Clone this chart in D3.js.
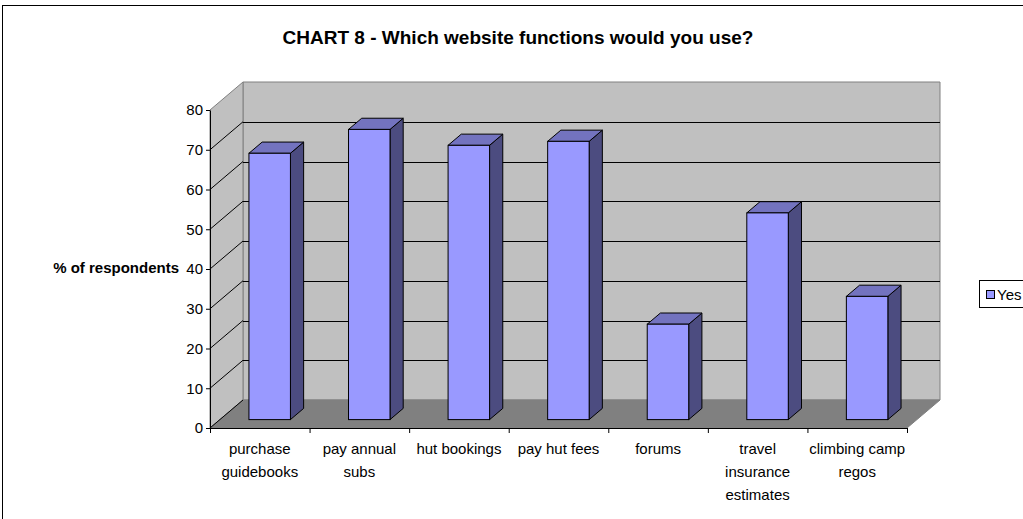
<!DOCTYPE html>
<html><head><meta charset="utf-8">
<script src="https://cdn.jsdelivr.net/npm/d3@7"></script>
<style>
html,body{margin:0;padding:0;background:#fff;}
svg{display:block;font-family:"Liberation Sans",Arial,sans-serif;}
</style></head>
<body>
<svg id="chart" width="1023" height="519"></svg>
<script>
// ---- data ----
const categories = ["purchase guidebooks","pay annual subs","hut bookings","pay hut fees","forums","travel insurance estimates","climbing camp regos"];
const tickLabels = [["purchase","guidebooks"],["pay annual","subs"],["hut bookings"],["pay hut fees"],["forums"],["travel","insurance","estimates"],["climbing camp","regos"]];
const yesValues = [67, 73, 69, 70, 24, 52, 31];
const yTicks = [0,10,20,30,40,50,60,70,80];
const seriesName = "Yes";
const chartTitle = "CHART 8 - Which website functions would you use?";
const yAxisTitle = "% of respondents";

// ---- layout ----
const svg = d3.select("#chart");
const X0 = 210, X1 = 907, Y0 = 428, Y1 = 110;
const DX = 33, DY = -28;           // depth offset
const gapWidth = 1.4;              // Excel gap width 140%
const d0 = 0.3, d1 = 0.7;          // bar depth fraction
const font = "'Liberation Sans', Arial, sans-serif";

const x = d3.scaleBand().domain(categories).range([X0, X1]).paddingInner(0).paddingOuter(0);
const xEdges = d3.scaleLinear().domain([0, categories.length]).range([X0, X1]);
const y = d3.scaleLinear().domain([0, 80]).range([Y0, Y1]);

// outer border
svg.append("rect").attr("x", 2.5).attr("y", 5.5).attr("width", 1100).attr("height", 600)
  .attr("fill", "none").attr("stroke", "#000").attr("stroke-width", 1);

// title
svg.append("text").attr("x", 518).attr("y", 44).attr("text-anchor", "middle")
  .attr("font-family", font).attr("font-weight", "bold").attr("font-size", 19).text(chartTitle);

const walls = svg.append("g");
const pt = (px, py) => px + "," + py;
// back wall
walls.append("polygon")
  .attr("points", [pt(X0+DX, y(80)+DY), pt(X1+DX, y(80)+DY), pt(X1+DX, Y0+DY), pt(X0+DX, Y0+DY)].join(" "))
  .attr("fill", "#C0C0C0").attr("stroke", "#808080");
// left wall
walls.append("polygon")
  .attr("points", [pt(X0, y(80)), pt(X0+DX, y(80)+DY), pt(X0+DX, Y0+DY), pt(X0, Y0)].join(" "))
  .attr("fill", "#C0C0C0").attr("stroke", "#808080");
// floor
walls.append("polygon")
  .attr("points", [pt(X0, Y0), pt(X1, Y0), pt(X1+DX, Y0+DY), pt(X0+DX, Y0+DY)].join(" "))
  .attr("fill", "#808080").attr("stroke", "#808080");

// gridlines
const gridVals = yTicks.filter(v => v > 0 && v < 80);
walls.selectAll("line.gb").data(gridVals).enter().append("line")
  .attr("x1", X0+DX).attr("x2", X1+DX)
  .attr("y1", d => Math.round(y(d)+DY)+0.5).attr("y2", d => Math.round(y(d)+DY)+0.5)
  .attr("stroke", "#000");
walls.selectAll("line.gl").data(gridVals).enter().append("line")
  .attr("x1", X0).attr("x2", X0+DX)
  .attr("y1", d => y(d)).attr("y2", d => y(d)+DY)
  .attr("stroke", "#000");
walls.append("line").attr("x1", X0).attr("x2", X0+DX).attr("y1", Y0).attr("y2", Y0+DY).attr("stroke", "#000");

// bars
const bw = x.bandwidth() / (1 + gapWidth);
const bdx = DX * (d1 - d0), bdy = DY * (d1 - d0);
const bars = svg.append("g").selectAll("g").data(categories.map((c, i) => ({c, v: yesValues[i]}))).enter().append("g")
  .attr("transform", d => `translate(${x(d.c) + (x.bandwidth() - bw) / 2 + DX * d0},${DY * d0})`);
bars.append("polygon") // side
  .attr("points", d => [pt(bw, y(d.v)), pt(bw+bdx, y(d.v)+bdy), pt(bw+bdx, Y0+bdy), pt(bw, Y0)].join(" "))
  .attr("fill", "#4C4C80").attr("stroke", "#000").attr("stroke-linejoin", "round");
bars.append("polygon") // top
  .attr("points", d => [pt(0, y(d.v)), pt(bdx, y(d.v)+bdy), pt(bw+bdx, y(d.v)+bdy), pt(bw, y(d.v))].join(" "))
  .attr("fill", "#7373BF").attr("stroke", "#000").attr("stroke-linejoin", "round");
bars.append("rect") // front
  .attr("x", 0).attr("y", d => y(d.v)).attr("width", bw).attr("height", d => Y0 - y(d.v))
  .attr("fill", "#9999FF").attr("stroke", "#000");

// y axis
const yAxis = svg.append("g").attr("transform", `translate(${X0},0)`)
  .call(d3.axisLeft(y).tickValues(yTicks).tickSize(4).tickSizeOuter(0).tickPadding(3));
yAxis.selectAll("text").attr("font-family", font).attr("font-size", 15).attr("fill", "#000");
yAxis.selectAll("line,path").attr("stroke", "#000");

// x axis (ticks at category boundaries)
const xAxis = svg.append("g").attr("transform", `translate(0,${Y0})`)
  .call(d3.axisBottom(xEdges).tickValues(d3.range(categories.length + 1)).tickFormat("").tickSize(5).tickSizeOuter(0));
xAxis.selectAll("line,path").attr("stroke", "#000");

// category labels
const lab = svg.append("g").selectAll("text").data(categories).enter().append("text")
  .attr("x", d => x(d) + x.bandwidth() / 2).attr("y", 454)
  .attr("text-anchor", "middle").attr("font-family", font).attr("font-size", 15).attr("fill", "#000");
lab.each(function(d, i) {
  d3.select(this).selectAll("tspan").data(tickLabels[i]).enter().append("tspan")
    .attr("x", x(d) + x.bandwidth() / 2).attr("dy", (t, j) => j === 0 ? 0 : 23).text(t => t);
});

// y axis title
svg.append("text").attr("x", 179).attr("y", 273).attr("text-anchor", "end")
  .attr("font-family", font).attr("font-weight", "bold").attr("font-size", 15).text(yAxisTitle);

// legend
const lg = svg.append("g");
lg.append("rect").attr("x", 979.5).attr("y", 280.5).attr("width", 80).attr("height", 27)
  .attr("fill", "#fff").attr("stroke", "#000");
lg.append("rect").attr("x", 986.5).attr("y", 290.5).attr("width", 8).attr("height", 8)
  .attr("fill", "#9999FF").attr("stroke", "#000");
lg.append("text").attr("x", 997).attr("y", 300).attr("font-family", font).attr("font-size", 15).text(seriesName);
</script>
</body></html>
